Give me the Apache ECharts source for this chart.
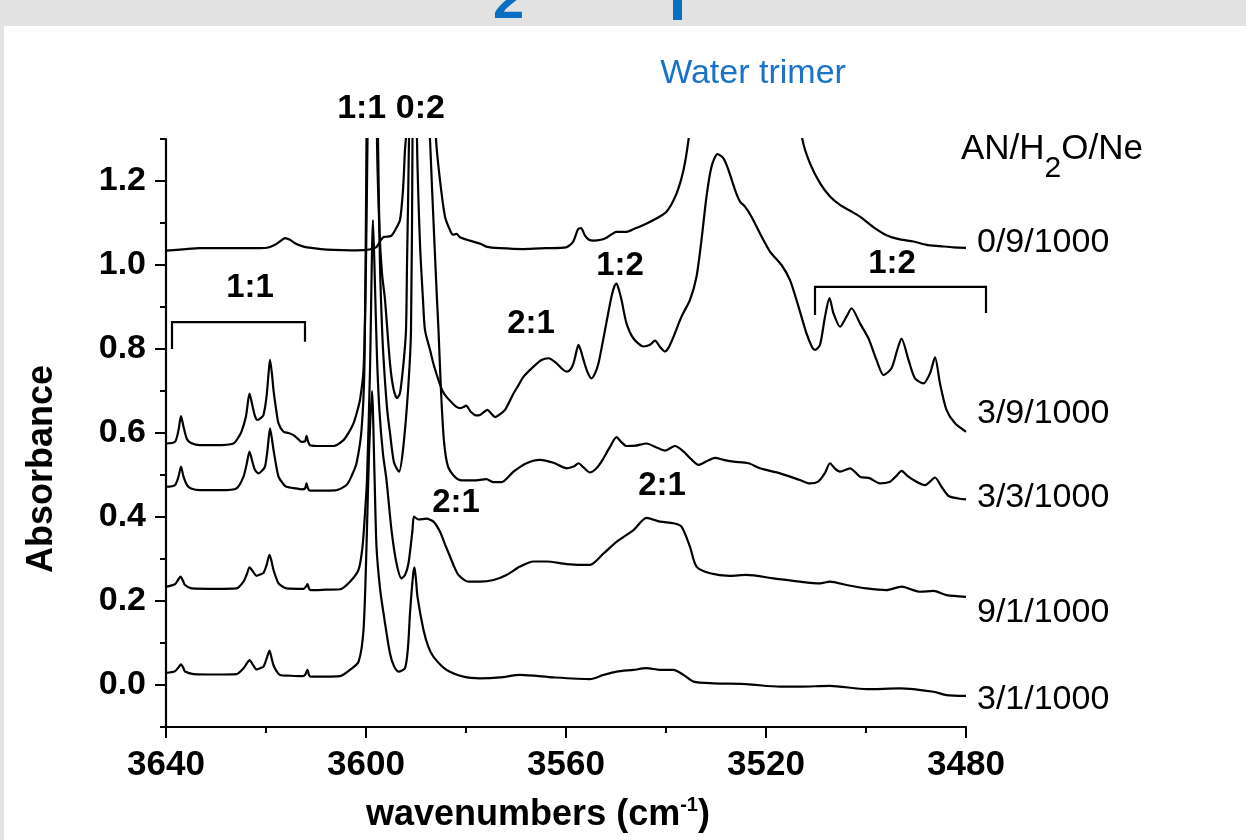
<!DOCTYPE html>
<html><head><meta charset="utf-8">
<script src="https://cdn.jsdelivr.net/npm/echarts@6/dist/echarts.min.js"></script>
<style>
html,body{margin:0;padding:0;}
#wrap{position:relative;width:1246px;height:840px;background:#e2e2e2;overflow:hidden;}
#paper{position:absolute;left:4px;top:26px;right:0;bottom:0;background:#fff;}
#c{position:absolute;left:0;top:0;width:1246px;height:840px;}
</style>
</head><body>
<div id="wrap"><div id="paper"></div><div id="c"></div></div>
<script>
// ---------- data (wavenumber cm-1, absorbance) ----------
const xTickLabels = [3640, 3600, 3560, 3520, 3480];
const yTickLabels = [0.0, 0.2, 0.4, 0.6, 0.8, 1.0, 1.2];
const yMinorTicks = [-0.1, 0.1, 0.3, 0.5, 0.7, 0.9, 1.1, 1.3];
const seriesNames = ['0/9/1000', '3/9/1000', '3/3/1000', '9/1/1000', '3/1/1000'];

const trace_0_9 = [[3640,1.034],[3636,1.038],[3633.2,1.040],[3628,1.040],[3622,1.040],[3619.8,1.041],[3618.2,1.048],[3617,1.058],[3616.2,1.064],[3615.2,1.060],[3614.2,1.052],[3612.8,1.045],[3611.8,1.042],[3609,1.038],[3606.6,1.036],[3603,1.035],[3600,1.036],[3598,1.042],[3597,1.060],[3596.4,1.067],[3595,1.069],[3594,1.087],[3593.2,1.107],[3592.6,1.179],[3592.2,1.274],[3591.9,1.32],[3591,1.6],[3590,2.2],[3589,3.0],[3588,2.2],[3587,1.6],[3586,1.30],[3585.2,1.202],[3584.2,1.115],[3583.2,1.083],[3582.6,1.072],[3581.9,1.074],[3581.2,1.066],[3579.2,1.058],[3577,1.050],[3575.8,1.043],[3573.2,1.040],[3568.6,1.038],[3564,1.040],[3560,1.042],[3558.6,1.055],[3557.6,1.085],[3557,1.088],[3556.2,1.070],[3555.4,1.060],[3554.5,1.058],[3553,1.060],[3551.9,1.065],[3550.5,1.076],[3549.9,1.079],[3547.9,1.079],[3546,1.088],[3544.5,1.095],[3542.5,1.107],[3539.9,1.127],[3537.9,1.17],[3536.5,1.226],[3535.5,1.298],[3534,1.45],[3531,1.9],[3527,2.4],[3524,2.6],[3521,2.4],[3517,1.9],[3514.5,1.45],[3512.7,1.298],[3511.2,1.242],[3509.2,1.195],[3507.2,1.163],[3505.2,1.143],[3503,1.128],[3501.2,1.115],[3498.6,1.091],[3495.9,1.071],[3493.2,1.061],[3490.5,1.056],[3487.9,1.048],[3485.2,1.045],[3482.5,1.042],[3480,1.041]];

const trace_3_9 = [[3640,0.575],[3638.2,0.579],[3637.5,0.607],[3637,0.640],[3636.5,0.615],[3635.8,0.585],[3635,0.576],[3633.2,0.571],[3630,0.571],[3626.5,0.575],[3625.5,0.590],[3624.9,0.603],[3624,0.640],[3623.3,0.694],[3622.8,0.670],[3622.2,0.640],[3621.7,0.631],[3621,0.636],[3620.5,0.643],[3619.9,0.686],[3619.5,0.740],[3619.2,0.774],[3618.8,0.740],[3618.5,0.702],[3617.9,0.650],[3617.5,0.623],[3616.5,0.603],[3615.5,0.600],[3614.5,0.595],[3613.5,0.585],[3612.9,0.579],[3612.2,0.580],[3611.9,0.593],[3611.6,0.580],[3611.2,0.571],[3609,0.569],[3606.5,0.569],[3604.5,0.583],[3603.5,0.600],[3602.5,0.623],[3601.8,0.650],[3601.2,0.679],[3600.5,0.750],[3600.1,0.925],[3599.7,1.3],[3599.2,2.0],[3598.7,2.6],[3598.2,2.0],[3597.8,1.3],[3597.3,1.08],[3596.8,0.98],[3596.2,0.917],[3595.2,0.766],[3594.5,0.705],[3593.8,0.683],[3593.2,0.695],[3592.5,0.766],[3592.0,0.845],[3591.8,1.0],[3591.4,1.3],[3591,2.0],[3590.6,3.0],[3590.2,2.0],[3589.8,1.3],[3589.2,1.05],[3588.6,0.917],[3588.2,0.845],[3587.2,0.798],[3586.4,0.76],[3585.5,0.726],[3584.7,0.70],[3583.9,0.686],[3582.8,0.672],[3581.9,0.662],[3581.2,0.659],[3580.5,0.662],[3580,0.665],[3579,0.650],[3578,0.642],[3577.2,0.643],[3576.4,0.650],[3575.7,0.655],[3575,0.647],[3574.2,0.638],[3573.2,0.645],[3572.2,0.655],[3570.5,0.694],[3569.5,0.714],[3568.5,0.734],[3566.5,0.758],[3564.9,0.774],[3563.5,0.778],[3561.9,0.766],[3560.7,0.752],[3559.9,0.746],[3559.2,0.750],[3558.5,0.766],[3557.9,0.795],[3557.5,0.810],[3557,0.795],[3556.5,0.774],[3555.7,0.745],[3554.9,0.730],[3554.2,0.742],[3553.5,0.766],[3552.2,0.845],[3550.9,0.925],[3550.3,0.950],[3549.9,0.956],[3549.4,0.940],[3548.9,0.917],[3547.9,0.861],[3546.5,0.825],[3544.5,0.806],[3543.2,0.810],[3542.2,0.820],[3541.2,0.805],[3540.2,0.794],[3539.4,0.805],[3538.5,0.829],[3536.9,0.877],[3535.2,0.917],[3533.9,0.972],[3532.9,1.06],[3531.9,1.163],[3530.9,1.234],[3529.7,1.264],[3528.5,1.254],[3527.5,1.226],[3526.2,1.179],[3525.2,1.151],[3524.2,1.139],[3522.9,1.115],[3521.2,1.075],[3519.2,1.032],[3516.9,1.0],[3515.2,0.964],[3513.5,0.901],[3511.9,0.837],[3510.8,0.805],[3510.2,0.798],[3509.2,0.81],[3508.2,0.877],[3507.3,0.921],[3506.5,0.885],[3505.2,0.853],[3503.9,0.877],[3502.9,0.897],[3501.2,0.861],[3499.5,0.825],[3497.9,0.774],[3496.5,0.738],[3494.9,0.754],[3493.7,0.800],[3492.9,0.825],[3491.5,0.774],[3490.2,0.730],[3488.5,0.718],[3487.2,0.742],[3486.2,0.780],[3485.2,0.718],[3483.9,0.655],[3482.2,0.623],[3480,0.603]];

const trace_3_3 = [[3640,0.472],[3638.2,0.476],[3637.5,0.496],[3637,0.520],[3636.5,0.496],[3635.8,0.476],[3635,0.468],[3633.2,0.464],[3629,0.464],[3625.9,0.468],[3624.5,0.496],[3623.8,0.530],[3623.3,0.556],[3622.8,0.535],[3622.2,0.512],[3621.5,0.504],[3620.8,0.510],[3620.2,0.520],[3619.7,0.560],[3619.2,0.611],[3618.8,0.585],[3618.5,0.560],[3617.5,0.496],[3616.5,0.478],[3615.9,0.472],[3614,0.468],[3612.9,0.466],[3612.2,0.468],[3611.9,0.480],[3611.6,0.468],[3611.2,0.463],[3608,0.463],[3605.9,0.464],[3603.9,0.476],[3602.8,0.500],[3601.9,0.528],[3600.9,0.607],[3600.3,0.766],[3599.9,1.3],[3599.3,2.2],[3598.8,2.8],[3598.3,2.2],[3597.6,1.3],[3597.2,1.0],[3597.0,0.917],[3596.6,0.80],[3595.8,0.66],[3595.2,0.60],[3594.4,0.53],[3593.4,0.508],[3592.6,0.56],[3591.6,0.70],[3591.0,0.845],[3590.7,1.3],[3590.3,2.2],[3590,3.0],[3589,2.4],[3588,1.6],[3587.2,1.3],[3586.3,1.05],[3585.8,0.917],[3585.5,0.845],[3585,0.70],[3584.4,0.58],[3583.6,0.52],[3582.2,0.495],[3581.2,0.488],[3578.5,0.487],[3575.9,0.490],[3574.5,0.483],[3572.9,0.483],[3570.5,0.508],[3567.9,0.528],[3565.2,0.536],[3562.5,0.529],[3559.9,0.516],[3558.5,0.520],[3557.5,0.528],[3556.5,0.518],[3555.2,0.506],[3554,0.515],[3552.9,0.532],[3551.2,0.567],[3549.9,0.590],[3548.9,0.578],[3547.9,0.569],[3546,0.570],[3543.9,0.575],[3542,0.566],[3540.2,0.558],[3538.2,0.569],[3536.5,0.556],[3535,0.538],[3533.5,0.524],[3532,0.532],[3530.2,0.541],[3528.5,0.536],[3526.5,0.532],[3523.5,0.528],[3521.2,0.516],[3517.2,0.504],[3513.2,0.488],[3511.2,0.480],[3509.5,0.485],[3508.2,0.505],[3507.2,0.528],[3506.2,0.515],[3505.2,0.508],[3503.2,0.516],[3501.2,0.496],[3499.2,0.492],[3497.2,0.480],[3495.2,0.484],[3493.9,0.498],[3492.9,0.510],[3491.7,0.498],[3490.5,0.488],[3488.2,0.476],[3487.2,0.484],[3486.2,0.494],[3484.9,0.472],[3483.5,0.450],[3481.5,0.444],[3480,0.442]];

const trace_9_1 = [[3640,0.234],[3638.2,0.240],[3637.6,0.250],[3637.1,0.258],[3636.6,0.248],[3636.2,0.238],[3634.9,0.230],[3630,0.229],[3625.9,0.230],[3624.5,0.246],[3623.8,0.265],[3623.3,0.280],[3622.6,0.270],[3621.9,0.260],[3621.2,0.263],[3620.5,0.267],[3619.9,0.285],[3619.3,0.310],[3618.9,0.295],[3618.5,0.274],[3617.5,0.242],[3616.5,0.233],[3615.9,0.230],[3612.5,0.229],[3611.9,0.236],[3611.7,0.240],[3611.4,0.230],[3611.1,0.226],[3608,0.227],[3605.2,0.228],[3603.2,0.246],[3601.5,0.274],[3600.7,0.329],[3600.2,0.409],[3599.8,0.49],[3599.2,0.75],[3598.6,1.107],[3598.2,0.95],[3597.8,0.78],[3597.3,0.65],[3596.6,0.55],[3595.9,0.488],[3594.9,0.369],[3593.9,0.290],[3592.9,0.254],[3592.2,0.262],[3591.5,0.290],[3590.7,0.369],[3590.4,0.401],[3589.5,0.394],[3587.9,0.396],[3586.5,0.389],[3585.2,0.365],[3584.2,0.335],[3583.2,0.306],[3582.3,0.280],[3581.5,0.262],[3579.5,0.246],[3577.2,0.246],[3574.5,0.250],[3571.9,0.262],[3569.2,0.282],[3566.5,0.294],[3563.9,0.294],[3559.9,0.288],[3555.2,0.286],[3552.5,0.313],[3549.9,0.341],[3546.5,0.369],[3543.9,0.398],[3541.2,0.389],[3538.5,0.385],[3536.9,0.377],[3535.2,0.329],[3533.9,0.282],[3531.2,0.266],[3527.2,0.260],[3523.9,0.262],[3518.5,0.254],[3513.2,0.246],[3509.2,0.242],[3507.2,0.246],[3503.9,0.238],[3499.9,0.230],[3495.9,0.226],[3492.9,0.234],[3489.2,0.222],[3486.5,0.224],[3483.9,0.214],[3480,0.210]];

const trace_3_1 = [[3640,0.029],[3638.2,0.033],[3637.5,0.042],[3637,0.049],[3636.5,0.040],[3636.2,0.032],[3634.5,0.026],[3630,0.025],[3625.9,0.026],[3624.5,0.040],[3623.8,0.052],[3623.3,0.059],[3622.6,0.048],[3621.9,0.037],[3621.2,0.040],[3620.5,0.044],[3619.9,0.062],[3619.3,0.082],[3618.9,0.065],[3618.4,0.044],[3617.2,0.024],[3615,0.022],[3612.9,0.021],[3612.2,0.024],[3611.7,0.036],[3611.4,0.024],[3611.1,0.020],[3608,0.020],[3605.2,0.021],[3603.2,0.036],[3601.5,0.055],[3600.5,0.131],[3599.9,0.329],[3599.4,0.55],[3598.8,0.70],[3598.3,0.50],[3597.9,0.329],[3597.2,0.23],[3596.5,0.171],[3595.2,0.075],[3594.4,0.045],[3593.5,0.032],[3592.2,0.040],[3591.6,0.09],[3591.2,0.171],[3590.6,0.26],[3590.3,0.28],[3590,0.25],[3589.7,0.21],[3588.5,0.131],[3587.5,0.09],[3586.5,0.067],[3583.9,0.036],[3580.5,0.020],[3577.2,0.016],[3573.2,0.018],[3569.2,0.024],[3562.5,0.018],[3555.2,0.014],[3552.5,0.024],[3549.9,0.032],[3546.5,0.036],[3543.9,0.040],[3541.2,0.036],[3538.5,0.036],[3536.5,0.024],[3534.5,0.008],[3530.5,0.004],[3523.9,0.002],[3517.2,-0.004],[3513.2,-0.004],[3507.2,-0.002],[3499.9,-0.010],[3493.2,-0.008],[3486.5,-0.016],[3483.9,-0.024],[3480,-0.026]];

const traces = [trace_0_9, trace_3_9, trace_3_3, trace_9_1, trace_3_1];

// annotation brackets in data coordinates (wavenumber, absorbance)
const bracket11 = {from: 3638.8, to: 3612.2, top: 0.864, leftEnd: 0.80, rightEnd: 0.817};
const bracket12 = {from: 3510.2, to: 3476.0, top: 0.948, leftEnd: 0.881, rightEnd: 0.886};

// ---------- chart ----------
const FF = '"Liberation Sans", Arial, Helvetica, sans-serif';
const chart = echarts.init(document.getElementById('c'), null, {renderer: 'canvas'});
const mctx = document.createElement('canvas').getContext('2d');
function tw(t, size, weight) { mctx.font = (weight || 'normal') + ' ' + size + 'px ' + FF; return mctx.measureText(t).width; }

const axisCol = '#000';
const option = {
  animation: false,
  backgroundColor: 'transparent',
  grid: {left: 166, right: 280, top: 139, bottom: 113, containLabel: false},
  xAxis: {
    type: 'value', min: 3480, max: 3640, interval: 40, inverse: true,
    axisLine: {show: true, onZero: false, lineStyle: {color: axisCol, width: 2.2}},
    axisTick: {show: true, length: 11, lineStyle: {color: axisCol, width: 2}},
    minorTick: {show: true, splitNumber: 2, length: 6, lineStyle: {color: axisCol, width: 2}},
    splitLine: {show: false}, minorSplitLine: {show: false},
    axisLabel: {color: '#000', fontSize: 35, fontWeight: 'bold', fontFamily: FF, margin: 21,
      customValues: xTickLabels, formatter: v => String(v)}
  },
  yAxis: [{
    type: 'value', min: -0.1, max: 1.3, position: 'left',
    axisLine: {show: true, onZero: false, lineStyle: {color: axisCol, width: 2.2}},
    axisTick: {show: true, length: 11, customValues: yTickLabels, lineStyle: {color: axisCol, width: 2}},
    axisLabel: {color: '#000', fontSize: 34, fontWeight: 'bold', fontFamily: FF, margin: 20,
      customValues: yTickLabels, formatter: v => v.toFixed(1)},
    splitLine: {show: false}
  }, {
    type: 'value', min: -0.1, max: 1.3, position: 'left',
    axisLine: {show: false, onZero: false},
    axisTick: {show: true, length: 6, customValues: yMinorTicks, lineStyle: {color: axisCol, width: 2}},
    axisLabel: {show: false}, splitLine: {show: false}
  }],
  series: traces.map((d, i) => ({
    name: seriesNames[i], type: 'line', data: d, yAxisIndex: 0,
    showSymbol: false, smooth: 0.25, clip: true, silent: true,
    lineStyle: {color: '#000', width: 2.2}
  }))
};
chart.setOption(option);

// ---------- annotations ----------
const g = [];
function txt(text, x, y, size, weight, color, align, extra) {
  const e = {type: 'text', x: x, y: y, silent: true, z: 100,
    style: {text: text, fill: color || '#000', font: (weight || 'normal') + ' ' + size + 'px ' + FF,
      textAlign: align || 'center', textVerticalAlign: 'middle', align: align || 'center', verticalAlign: 'middle'}};
  if (extra) Object.assign(e, extra);
  g.push(e);
}
// partially visible blue heading at the very top
txt('2', 493, 3, 56, 'bold', '#0a6fc2', 'left');
g.push({type: 'rect', shape: {x: 673, y: 0, width: 9, height: 20}, style: {fill: '#0a6fc2'}, silent: true, z: 100});

txt('Water trimer', 753, 74, 34, 'normal', '#1a73c8');
txt('1:1 0:2', 391, 109, 34, 'bold');
txt('1:1', 250, 288, 33, 'bold');
txt('2:1', 531, 324, 33, 'bold');
txt('1:2', 620, 266, 33, 'bold');
txt('1:2', 892, 264, 33, 'bold');
txt('2:1', 456, 503, 33, 'bold');
txt('2:1', 662, 486, 33, 'bold');

// series labels
const labelY = [243, 414, 498, 613, 700];
seriesNames.forEach((n, i) => txt(n, 977, labelY[i], 34, 'normal', '#000', 'left'));

// AN/H2O/Ne with subscript
{
  const x0 = 961, s = 35;
  const w1 = tw('AN/H', s);
  txt('AN/H', x0, 149, s, 'normal', '#000', 'left');
  txt('2', x0 + w1, 169, 30, 'normal', '#000', 'left');
  const w2 = tw('2', 30);
  txt('O/Ne', x0 + w1 + w2, 149, s, 'normal', '#000', 'left');
}

// axis titles
txt('Absorbance', 42, 469, 36, 'bold', '#000', 'center', {rotation: Math.PI / 2});
{
  const s = 36, a = 'wavenumbers (cm', sup = '-1', b = ')';
  const wa = tw(a, s, 'bold'), ws = tw(sup, 20, 'bold'), wb = tw(b, s, 'bold');
  const total = wa + ws + wb;
  const x0 = 538 - total / 2;
  txt(a, x0, 815, s, 'bold', '#000', 'left');
  txt(sup, x0 + wa, 805, 20, 'bold', '#000', 'left');
  txt(b, x0 + wa + ws, 815, s, 'bold', '#000', 'left');
}

// brackets (placed through the axis scales)
function bracket(b) {
  const p = (x, y) => chart.convertToPixel({xAxisIndex: 0, yAxisIndex: 0}, [x, y]);
  const pts = [p(b.from, b.leftEnd), p(b.from, b.top), p(b.to, b.top), p(b.to, b.rightEnd)];
  g.push({type: 'polyline', shape: {points: pts}, style: {stroke: '#000', lineWidth: 2.2, fill: null}, silent: true, z: 100});
}
bracket(bracket11);
bracket(bracket12);

chart.setOption({graphic: {elements: g}});
</script>
</body></html>
